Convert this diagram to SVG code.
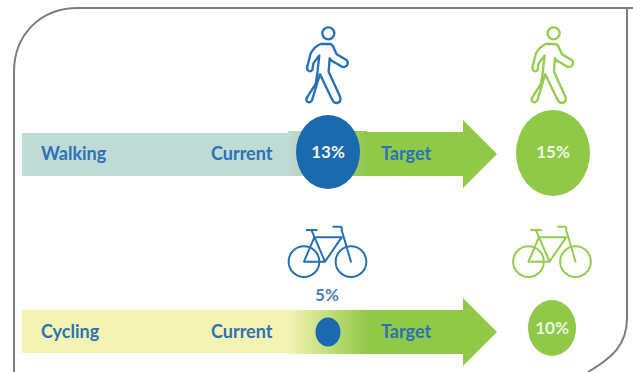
<svg xmlns="http://www.w3.org/2000/svg" xmlns:xlink="http://www.w3.org/1999/xlink" width="633" height="372" viewBox="0 0 633 372">
<style>
text{font-family:"Lato","Open Sans","Liberation Sans",sans-serif;font-weight:700}
.lb{font-size:18px;fill:#2b72b6}
.pc{font-size:17px;fill:#eef5e4;text-anchor:middle}
.walker{fill:#fff;stroke-width:7;stroke-linejoin:round}
.bike{fill:none;stroke-width:6;stroke-linecap:round;stroke-linejoin:round}
.blue{stroke:#2670b4}
.green{stroke:#94cb50}
</style>
<defs>
<linearGradient id="gw" gradientUnits="userSpaceOnUse" x1="288" y1="0" x2="368" y2="0"><stop offset="0" stop-color="#c0dad5"/><stop offset="1" stop-color="#90c947"/></linearGradient>
<linearGradient id="gc" gradientUnits="userSpaceOnUse" x1="288" y1="0" x2="368" y2="0"><stop offset="0" stop-color="#f4f3b4"/><stop offset="1" stop-color="#90c947"/></linearGradient>
<g id="walk">
<circle cx="145" cy="70" r="18"/>
<path d="M122 102H150Q158 103 163 118L170 133L198 149Q207 156 201 166Q195 174 184 169L155 152L149 145L146 185L181 262Q183 276 172 279Q162 280 157 270L120 193L112 218L96 271Q88 282 80 273Q77 266 84 258L107 222L112 190L118 136L100 160L97 180Q90 188 83 180Q79 174 84 162L92 130Q105 108 122 102Z"/>
</g>
<g id="cyc">
<circle cx="72" cy="155" r="46"/><circle cx="213" cy="155" r="46"/>
<path d="M80 60H110M95 62L135 155M108 82H185M103 82L72 155H135L185 82M160 50H182Q187 52 185 60L213 155"/>
</g>
</defs>
<path id="frame" d="M14 72C14 35 40 8 78 8H633M627 318C627 345 612 358 588 372" fill="none" stroke="#7d7d7d" stroke-width="2"/>
<path d="M14 72V372" fill="none" stroke="#7d7d7d" stroke-width="2"/>
<path d="M627 8V318" fill="none" stroke="#7d7d7d" stroke-width="2"/>
<g id="connectors">
<path d="M288 132H463V120L497 154L463 188V176H288Z" fill="#90c947"/>
<rect x="288" y="131" width="79" height="45" fill="url(#gw)"/>
<path d="M288 310H463V298L497 332L463 366V354H288Z" fill="#90c947"/>
<rect x="288" y="310" width="79" height="44" fill="url(#gc)"/>
</g>
<g id="walking-bar"><rect x="22" y="133" width="266" height="43" fill="#c0dad5"/><text class="lb" x="41" y="160">Walking</text><text class="lb" x="211" y="160">Current</text></g>
<g id="cycling-bar"><rect x="22" y="310" width="266" height="43" fill="#f4f3b4"/><text class="lb" x="41" y="338">Cycling</text><text class="lb" x="211" y="338">Current</text></g>
<text class="lb" x="381" y="160">Target</text>
<text class="lb" x="381" y="338">Target</text>
<g id="walking-current"><ellipse cx="328" cy="152" rx="32" ry="37" fill="#1b69ae"/><text class="pc" x="328" y="158">13%</text><use xlink:href="#walk" href="#walk" class="walker blue" transform="translate(280 10) scale(.3333)"/></g>
<g id="walking-target"><ellipse cx="553" cy="153" rx="37" ry="43" fill="#90c947"/><text class="pc" x="553" y="158">15%</text><use xlink:href="#walk" href="#walk" class="walker green" transform="translate(505.300 10) scale(.3333)"/></g>
<g id="cycling-current"><use xlink:href="#cyc" href="#cyc" class="bike blue" transform="translate(280 210) scale(.3333)"/><text x="327" y="301" font-size="17" fill="#4f7fb8" text-anchor="middle">5%</text><ellipse cx="328" cy="332" rx="12.500" ry="14.500" fill="#1b69ae"/></g>
<g id="cycling-target"><use xlink:href="#cyc" href="#cyc" class="bike green" transform="translate(504.500 210) scale(.3333)"/><ellipse cx="552" cy="328" rx="24" ry="28" fill="#90c947"/><text class="pc" x="552" y="334">10%</text></g>
</svg>
